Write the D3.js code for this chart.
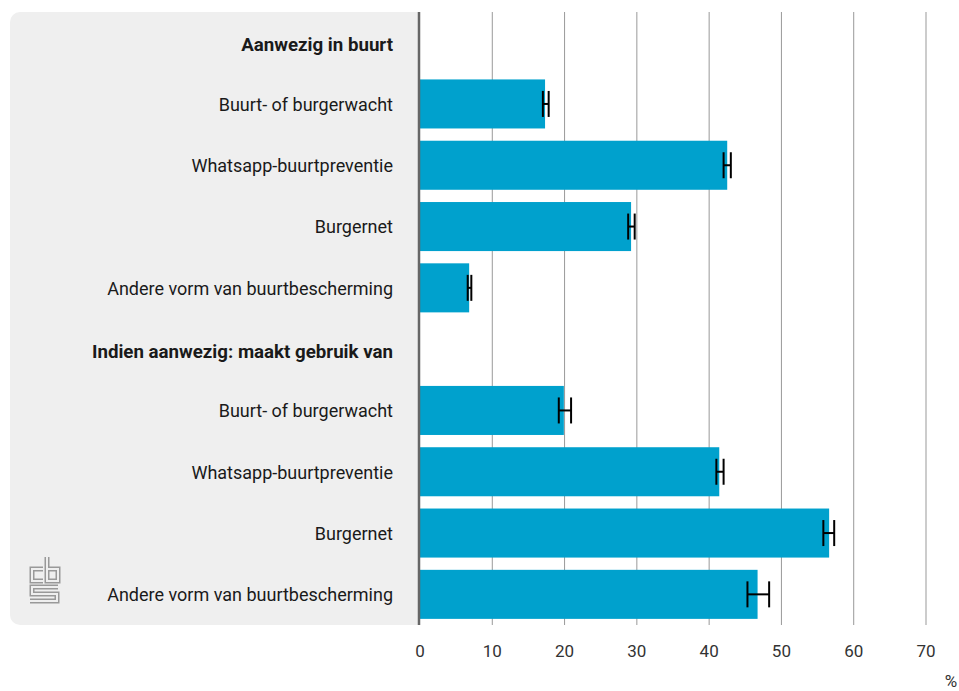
<!DOCTYPE html>
<html>
<head>
<meta charset="utf-8">
<script src="https://cdn.jsdelivr.net/npm/d3@7"></script>
<style>
  body { margin: 0; background: #fff; }
  svg { display: block; font-family: Roboto, sans-serif; }
</style>
</head>
<body>
<svg width="959" height="691"></svg>
<script>
// rows from top to bottom, headers have no value
const rows = [
  'Aanwezig in buurt',
  'Buurt- of burgerwacht',
  'Whatsapp-buurtpreventie',
  'Burgernet',
  'Andere vorm van buurtbescherming',
  'Indien aanwezig: maakt gebruik van',
  'Buurt- of burgerwacht',
  'Whatsapp-buurtpreventie',
  'Burgernet',
  'Andere vorm van buurtbescherming'
]
const isHeader = [true, false, false, false, false, true, false, false, false, false]
const values = [null, 17.3, 42.5, 29.2, 6.8, null, 19.9, 41.4, 56.6, 46.7]
const lower = [null, 17.0, 42.0, 28.8, 6.6, null, 19.2, 41.0, 55.8, 45.3]
const upper = [null, 17.8, 43.0, 29.7, 7.1, null, 20.9, 42.0, 57.3, 48.3]
const xTicks = [0, 10, 20, 30, 40, 50, 60, 70]

const svg = d3.select('svg')
const yTop = 12
const yBottom = 625

const x = d3.scaleLinear().domain([0, 70]).range([420, 926])
const y = d3.scaleBand()
  .domain(d3.range(rows.length))
  .range([yTop, yBottom])
  .paddingInner(0.2)
  .paddingOuter(0.1)

// grey label panel
const panel = svg.append('g')
panel.append('rect')
  .attr('x', 10).attr('y', yTop)
  .attr('width', 409).attr('height', yBottom - yTop)
  .attr('rx', 10)
  .attr('fill', '#efefef')
panel.append('rect')
  .attr('x', 390).attr('y', yTop)
  .attr('width', 29).attr('height', yBottom - yTop)
  .attr('fill', '#efefef')

// gridlines
svg.append('g')
  .selectAll('line')
  .data(xTicks.filter((d) => d > 0))
  .join('line')
  .attr('x1', (d) => x(d)).attr('x2', (d) => x(d))
  .attr('y1', yTop).attr('y2', yBottom)
  .attr('stroke', '#999')
  .attr('stroke-width', 1)

// tick labels
svg.append('g')
  .selectAll('text')
  .data(xTicks)
  .join('text')
  .attr('x', (d) => x(d))
  .attr('y', 657)
  .attr('text-anchor', 'middle')
  .attr('font-size', 17)
  .attr('fill', '#333')
  .text((d) => d)

svg.append('text')
  .attr('x', 951).attr('y', 687)
  .attr('text-anchor', 'middle')
  .attr('font-size', 17)
  .attr('fill', '#333')
  .text('%')

// bars
const idx = d3.range(rows.length).filter((i) => !isHeader[i])
svg.append('g')
  .selectAll('rect')
  .data(idx)
  .join('rect')
  .attr('x', x(0))
  .attr('y', (i) => y(i))
  .attr('width', (i) => x(values[i]) - x(0))
  .attr('height', y.bandwidth())
  .attr('fill', '#00a1cd')

// error bars
const err = svg.append('g').attr('stroke', '#000').attr('stroke-width', 2)
idx.forEach((i) => {
  const cy = y(i) + y.bandwidth() / 2
  const h = 13
  err.append('line')
    .attr('x1', x(lower[i])).attr('x2', x(upper[i]))
    .attr('y1', cy).attr('y2', cy)
  err.append('line')
    .attr('x1', x(lower[i])).attr('x2', x(lower[i]))
    .attr('y1', cy - h).attr('y2', cy + h)
  err.append('line')
    .attr('x1', x(upper[i])).attr('x2', x(upper[i]))
    .attr('y1', cy - h).attr('y2', cy + h)
})

// zero line
svg.append('line')
  .attr('x1', 419).attr('x2', 419)
  .attr('y1', yTop).attr('y2', yBottom)
  .attr('stroke', '#666')
  .attr('stroke-width', 2.5)

// category labels
svg.append('g')
  .selectAll('text')
  .data(d3.range(rows.length))
  .join('text')
  .attr('x', 393)
  .attr('y', (i) => y(i) + y.bandwidth() / 2 + (isHeader[i] ? 2 : 0.5))
  .attr('dy', '0.35em')
  .attr('text-anchor', 'end')
  .attr('font-size', (i) => (isHeader[i] ? 18.7 : 18))
  .attr('font-weight', (i) => (isHeader[i] ? 700 : 400))
  .attr('fill', '#1a1a1a')
  .text((i) => rows[i])

// cbs logo, outlined strokes
const logoPath = [
  'M43,569 H32 V581 H43',
  'M47,557 V581 H58 V569 H47',
  'M58,587 H32 V594 H57 V601 H30'
]
const logo = svg.append('g').attr('fill', 'none').attr('stroke-linecap', 'butt')
logo.selectAll('path.o')
  .data(logoPath)
  .join('path')
  .attr('class', 'o')
  .attr('d', (d) => d)
  .attr('stroke', '#999')
  .attr('stroke-width', 5)
logo.selectAll('path.i')
  .data(logoPath)
  .join('path')
  .attr('class', 'i')
  .attr('d', (d) => d)
  .attr('stroke', '#efefef')
  .attr('stroke-width', 2)
</script>
</body>
</html>
